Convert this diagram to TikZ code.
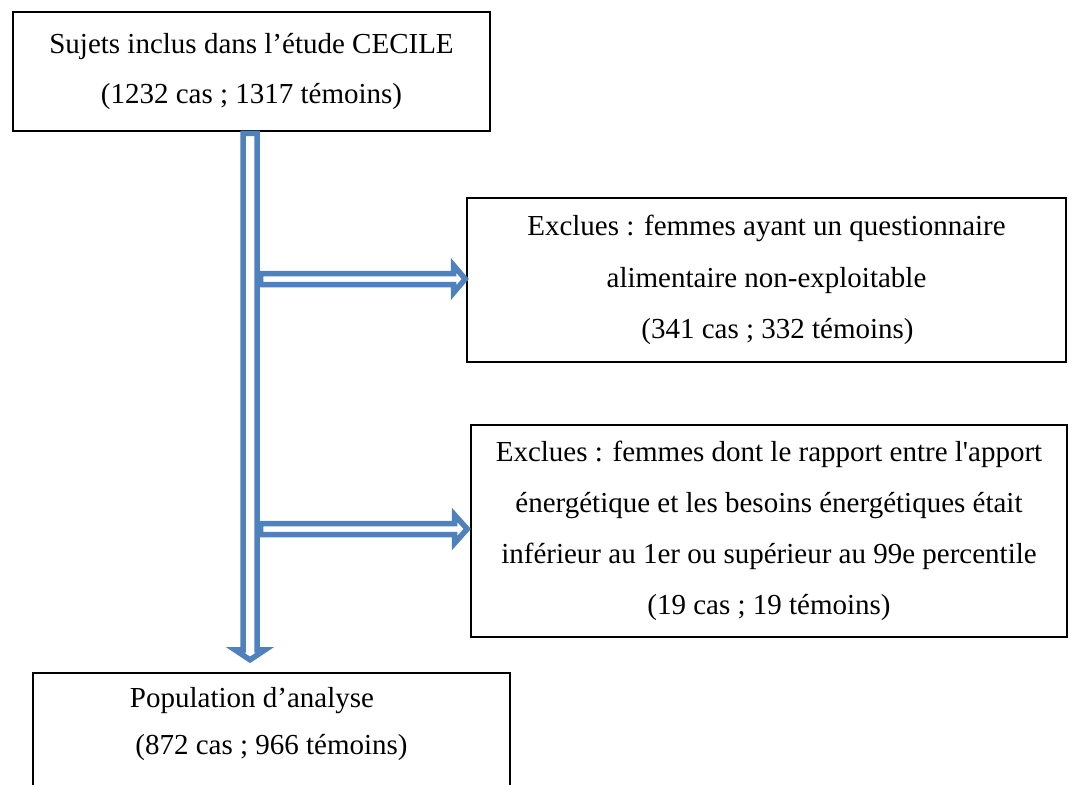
\documentclass[tikz,border=0pt]{standalone}
\usepackage{fontspec}
\setmainfont{Liberation Serif}[Ligatures=TeXOff]
\usetikzlibrary{calc}
\definecolor{arrowblue}{RGB}{79,129,189}
\tikzset{
  box/.style={draw=black, line width=1.6pt, inner sep=0pt, align=center},
  boxtext/.style={font=\fontsize{29}{50}\selectfont},
  hollow/.style={draw=arrowblue, line width=5.5pt, fill=white, line join=miter}
}
\begin{document}
\begin{tikzpicture}[x=1pt,y=-1pt]
\useasboundingbox (0,0) rectangle (1072,785);
\node[box, boxtext, minimum width=477pt, minimum height=119pt] (top) at (251.5,71.5)
  {Sujets inclus dans l’étude CECILE\\(1232 cas ; 1317 témoins)};
\node[box, font=\fontsize{29}{51.5}\selectfont, minimum width=599pt, minimum height=164pt] (ex1) at (766.5,280)
  {Exclues : femmes ayant un questionnaire\\alimentaire non-exploitable\\\hspace*{22pt}(341 cas ; 332 témoins)};
\node[box, font=\fontsize{29}{51}\selectfont, minimum width=596pt, minimum height=212pt] (ex2) at (769,531)
  {Exclues : femmes dont le rapport entre l'apport\\énergétique et les besoins énergétiques était\\inférieur au 1er ou supérieur au 99e percentile\\(19 cas ; 19 témoins)};
\node[align=center, inner sep=0pt, font=\fontsize{29}{47}\selectfont, minimum width=477pt, minimum height=103pt] (bot) at (271.5,724.5)
  {Population d’analyse\hspace*{39pt}\\(872 cas ; 966 témoins)};
\draw[line width=1.6pt] (bot.north west) rectangle ($(bot.south east)+(0,40)$);

% vertical hollow arrow
\coordinate (vs) at ($(top.south)+(-1.5,1.5)$);
\coordinate (ve) at ($(bot.north)+(-21.5,-13)$);
\draw[hollow] ($(vs)+(-7,0)$) -- ($(ve)+(-7,-10)$) -- ($(ve)+(-15,-10)$) -- (ve)
  -- ($(ve)+(15,-10)$) -- ($(ve)+(7,-10)$) -- ($(vs)+(7,0)$) -- cycle;

% horizontal hollow arrow 1
\coordinate (he1) at ($(ex1.west)+(-1,-1)$);
\coordinate (hs1) at ($(he1 -| vs)+(10.5,0)$);
\draw[hollow] ($(hs1)+(0,-5.5)$) -- ($(he1)+(-11.5,-5.5)$) -- ($(he1)+(-11.5,-13.5)$) -- (he1)
  -- ($(he1)+(-11.5,13.5)$) -- ($(he1)+(-11.5,5.5)$) -- ($(hs1)+(0,5.5)$) -- cycle;

% horizontal hollow arrow 2
\coordinate (he2) at ($(ex2.west)+(-3,-2)$);
\coordinate (hs2) at ($(he2 -| vs)+(10.5,0)$);
\draw[hollow] ($(hs2)+(0,-5.5)$) -- ($(he2)+(-12.5,-5.5)$) -- ($(he2)+(-12.5,-14)$) -- (he2)
  -- ($(he2)+(-12.5,14)$) -- ($(he2)+(-12.5,5.5)$) -- ($(hs2)+(0,5.5)$) -- cycle;
\end{tikzpicture}
\end{document}
